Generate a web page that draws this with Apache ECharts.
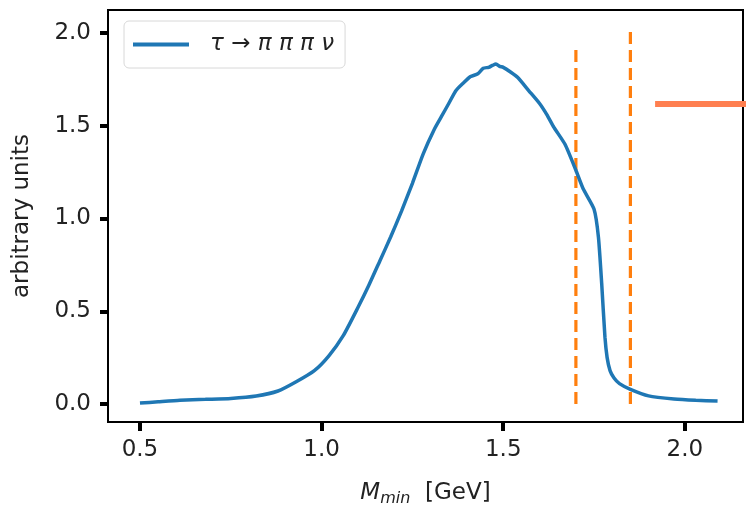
<!DOCTYPE html>
<html>
<head>
<meta charset="utf-8">
<script src="https://cdn.jsdelivr.net/npm/echarts@6/dist/echarts.min.js"></script>
<style>
  html, body { margin: 0; padding: 0; background: #fff; }
  #chart { width: 746px; height: 505px; }
</style>
</head>
<body>
<div id="chart"></div>
<script>
// M_min values [GeV] and the curve heights
const mMin = [0.50, 0.55, 0.61, 0.68, 0.75, 0.82, 0.88, 0.93, 0.98, 1.02, 1.06, 1.10, 1.13, 1.16, 1.19, 1.22,
  1.25, 1.28, 1.31, 1.33, 1.35, 1.37, 1.39, 1.41, 1.43, 1.445, 1.46, 1.47, 1.48, 1.49, 1.50, 1.52, 1.54, 1.57,
  1.60, 1.62, 1.64, 1.67, 1.70, 1.72, 1.75, 1.762, 1.771, 1.78, 1.786, 1.794, 1.805, 1.82, 1.85, 1.90,
  1.97, 2.03, 2.09];
const density = [0.005, 0.012, 0.02, 0.025, 0.03, 0.043, 0.07, 0.12, 0.18, 0.26, 0.37, 0.52, 0.64, 0.77, 0.90, 1.04,
  1.19, 1.35, 1.48, 1.55, 1.62, 1.69, 1.73, 1.765, 1.78, 1.81, 1.815, 1.825, 1.833, 1.82, 1.815, 1.79, 1.76, 1.69,
  1.62, 1.56, 1.49, 1.40, 1.26, 1.16, 1.05, 0.90, 0.65, 0.36, 0.25, 0.18, 0.14, 0.11, 0.079, 0.044,
  0.027, 0.02, 0.016];

const seriesName = 'τ → π π π ν';

// vertical cut lines: position, top value
const cutX = [1.70, 1.85];
const cutTop = [1.93, 2.03];

// stray horizontal line on the right
const markX = [1.918, 2.17];
const markY = 1.617;

const xTicks = [0.5, 1.0, 1.5, 2.0];
const yTicks = [0.0, 0.5, 1.0, 1.5, 2.0];

const chart = echarts.init(document.getElementById('chart'));

const font = 'DejaVu Sans';

chart.setOption({
  animation: false,
  grid: {
    left: 108, right: 3, top: 10, bottom: 83,
    outerBoundsMode: 'none',
    show: true,
    borderColor: '#000',
    borderWidth: 2
  },
  legend: {
    left: 124,
    top: 21,
    data: [{ name: seriesName, icon: 'rect' }],
    itemWidth: 56,
    itemHeight: 4,
    padding: [12, 11, 12, 9],
    backgroundColor: '#fff',
    borderColor: '#d8d8d8',
    borderWidth: 1,
    borderRadius: 5,
    textStyle: {
      fontFamily: font,
      fontStyle: 'italic',
      fontSize: 23,
      color: '#222',
      padding: [0, 0, 0, 16]
    }
  },
  xAxis: {
    type: 'value',
    min: 0.412,
    max: 2.16,
    name: '{i|M}{s|min}{n|  [GeV]}',
    nameLocation: 'middle',
    nameGap: 57,
    nameTextStyle: {
      rich: {
        i: { fontFamily: font, fontStyle: 'italic', fontSize: 23, color: '#222' },
        s: { fontFamily: font, fontStyle: 'italic', fontSize: 16, color: '#222', padding: [12, 0, 0, 0] },
        n: { fontFamily: font, fontSize: 23, color: '#222' }
      }
    },
    axisLine: { onZero: false, lineStyle: { color: '#000', width: 2 } },
    axisTick: {
      customValues: xTicks,
      length: 9,
      lineStyle: { color: '#000', width: 4 }
    },
    axisLabel: {
      customValues: xTicks,
      formatter: v => v.toFixed(1),
      margin: 17,
      fontFamily: font,
      fontSize: 23,
      color: '#222'
    },
    splitLine: { show: false }
  },
  yAxis: {
    type: 'value',
    min: -0.097,
    max: 2.124,
    name: 'arbitrary units',
    nameLocation: 'middle',
    nameGap: 74,
    nameTextStyle: { fontFamily: font, fontSize: 23, color: '#222' },
    axisLine: { show: true, onZero: false, lineStyle: { color: '#000', width: 2 } },
    axisTick: {
      show: true,
      customValues: yTicks,
      length: 8,
      lineStyle: { color: '#000', width: 4 }
    },
    axisLabel: {
      customValues: yTicks,
      formatter: v => v.toFixed(1),
      margin: 17,
      fontFamily: font,
      fontSize: 23,
      color: '#222'
    },
    splitLine: { show: false }
  },
  series: [
    {
      name: seriesName,
      type: 'line',
      symbol: 'none',
      smooth: 0.2,
      data: mMin.map((m, i) => [m, density[i]]),
      lineStyle: { color: '#1f77b4', width: 3.5 },
      itemStyle: { color: '#1f77b4' },
      z: 3
    },
    ...cutX.map((cx, i) => ({
      name: 'cut' + i,
      type: 'line',
      symbol: 'none',
      data: [[cx, 0], [cx, cutTop[i]]],
      lineStyle: { color: '#ff7f0e', width: 3.2, type: [12, 6] },
      z: 2
    })),
    {
      name: 'mark',
      type: 'line',
      symbol: 'none',
      clip: false,
      data: markX.map(mx => [mx, markY]),
      lineStyle: { color: '#ff7f50', width: 6 },
      z: 2
    }
  ]
});
</script>
</body>
</html>
